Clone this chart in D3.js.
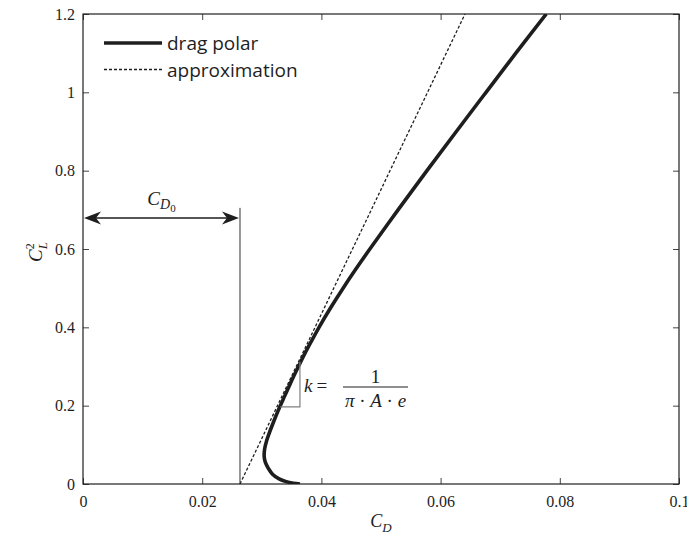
<!DOCTYPE html>
<html>
<head>
<meta charset="utf-8">
<script src="https://cdn.jsdelivr.net/npm/d3@7"></script>
<style>
  html, body { margin: 0; padding: 0; background: #fff; }
  svg { display: block; }
</style>
</head>
<body>
<svg id="chart" width="687" height="538"></svg>
<script>
// ---- data ----
const xTicks = [0, 0.02, 0.04, 0.06, 0.08, 0.1];
const xTickLabels = ["0", "0.02", "0.04", "0.06", "0.08", "0.1"];
const yTicks = [0, 0.2, 0.4, 0.6, 0.8, 1, 1.2];
const yTickLabels = ["0", "0.2", "0.4", "0.6", "0.8", "1", "1.2"];

// drag polar (C_D vs C_L^2)
const polarCD  = [0.0364, 0.0353, 0.0341, 0.0329, 0.0318, 0.0311, 0.0306, 0.0304, 0.03048, 0.0308,
                  0.03125, 0.03175, 0.0324, 0.0331, 0.03385, 0.0346, 0.03535, 0.03615, 0.03695, 0.0378,
                  0.0387, 0.0396, 0.04155, 0.04364, 0.04584, 0.04813, 0.05286, 0.05771, 0.06264, 0.06762,
                  0.07262, 0.07773];
const polarCL2 = [0.000, 0.002, 0.006, 0.013, 0.025, 0.040, 0.055, 0.070, 0.090, 0.110,
                  0.130, 0.150, 0.175, 0.200, 0.225, 0.250, 0.275, 0.300, 0.325, 0.350,
                  0.375, 0.400, 0.450, 0.500, 0.550, 0.600, 0.700, 0.800, 0.900, 1.000,
                  1.100, 1.200];

// linear approximation
const approxCD  = [0.02634, 0.0641];
const approxCL2 = [0, 1.2];

// annotations
const cd0 = 0.02634;
const cd0LineTop = 0.705;
const cd0ArrowCL2 = 0.679;
const triCD  = [0.0331, 0.0364, 0.0364];
const triCL2 = [0.197, 0.197, 0.312];

const legendLabels = ["drag polar", "approximation"];

// ---- layout ----
const svg = d3.select("#chart");
const x = d3.scaleLinear().domain([0, 0.1]).range([83, 679]);
const y = d3.scaleLinear().domain([0, 1.2]).range([484, 14]);
const ink = "#1e1e1e";
const serif = "'Liberation Serif', 'DejaVu Serif', serif";
const sans = "'Open Sans', 'Noto Sans', sans-serif";

svg.append("defs").append("clipPath").attr("id", "plotclip")
  .append("rect").attr("x", x(0)).attr("y", y(1.2))
  .attr("width", x(0.1) - x(0)).attr("height", y(0) - y(1.2));

// axes with inward ticks on all four sides
const tickLen = 6;
svg.append("g").attr("transform", `translate(0,${y(0)})`)
  .call(d3.axisBottom(x).tickValues(xTicks).tickSize(-tickLen).tickFormat((d, i) => xTickLabels[i]).tickPadding(12))
  .call(g => g.select(".domain").remove());
svg.append("g").attr("transform", `translate(0,${y(1.2)})`)
  .call(d3.axisTop(x).tickValues(xTicks).tickSize(-tickLen).tickFormat(""))
  .call(g => g.select(".domain").remove());
svg.append("g").attr("transform", `translate(${x(0)},0)`)
  .call(d3.axisLeft(y).tickValues(yTicks).tickSize(-tickLen).tickFormat((d, i) => yTickLabels[i]).tickPadding(8))
  .call(g => g.select(".domain").remove());
svg.append("g").attr("transform", `translate(${x(0.1)},0)`)
  .call(d3.axisRight(y).tickValues(yTicks).tickSize(-tickLen).tickFormat(""))
  .call(g => g.select(".domain").remove());

svg.selectAll(".tick line").attr("stroke", "#444").attr("stroke-width", 1);
svg.selectAll(".tick text").attr("font-family", serif).attr("font-size", 16).attr("fill", ink);

svg.append("rect")
  .attr("x", x(0)).attr("y", y(1.2))
  .attr("width", x(0.1) - x(0)).attr("height", y(0) - y(1.2))
  .attr("fill", "none").attr("stroke", ink).attr("stroke-width", 1.2);

// axis titles
const xl = svg.append("text").attr("x", 381).attr("y", 527)
  .attr("text-anchor", "middle").attr("font-family", serif).attr("font-style", "italic").attr("fill", ink);
xl.append("tspan").attr("font-size", 18).text("C");
xl.append("tspan").attr("font-size", 13).attr("dy", 5).text("D");

const yl = svg.append("text").attr("transform", "translate(42,252) rotate(-90)")
  .attr("text-anchor", "middle").attr("font-family", serif).attr("font-style", "italic").attr("fill", ink);
yl.append("tspan").attr("font-size", 19).text("C");
yl.append("tspan").attr("font-size", 12).attr("dy", -8).attr("font-style", "normal").text("2");
yl.append("tspan").attr("font-size", 13).attr("dx", -6).attr("dy", 13).text("L");

// CD0 vertical line
svg.append("line")
  .attr("x1", x(cd0)).attr("x2", x(cd0))
  .attr("y1", y(0)).attr("y2", y(cd0LineTop))
  .attr("stroke", "#333").attr("stroke-width", 1);

// double arrow
const ay = y(cd0ArrowCL2);
const ax0 = x(0) + 1, ax1 = x(cd0) - 1;
svg.append("line").attr("x1", ax0 + 8).attr("x2", ax1 - 8).attr("y1", ay).attr("y2", ay)
  .attr("stroke", ink).attr("stroke-width", 1.5);
function head(tipX, dir) {
  const L = 17, W = 6.5, N = 12;
  return `M${tipX},${ay} L${tipX - dir * L},${ay - W} L${tipX - dir * N},${ay} L${tipX - dir * L},${ay + W} Z`;
}
svg.append("path").attr("d", head(ax0, -1)).attr("fill", ink);
svg.append("path").attr("d", head(ax1, 1)).attr("fill", ink);

const cl = svg.append("text").attr("x", (ax0 + ax1) / 2).attr("y", 205)
  .attr("text-anchor", "middle").attr("font-family", serif).attr("font-style", "italic").attr("fill", ink);
cl.append("tspan").attr("font-size", 19).text("C");
cl.append("tspan").attr("font-size", 14).attr("dy", 4).text("D");
cl.append("tspan").attr("font-size", 11).attr("dy", 3).attr("font-style", "normal").text("0");

// curves
const g = svg.append("g").attr("clip-path", "url(#plotclip)");
const approxData = approxCD.map((d, i) => [d, approxCL2[i]]);
g.append("path").datum(approxData)
  .attr("d", d3.line().x(d => x(d[0])).y(d => y(d[1])))
  .attr("fill", "none").attr("stroke", ink).attr("stroke-width", 1.3)
  .attr("stroke-dasharray", "3,2");

const polarData = polarCD.map((d, i) => [d, polarCL2[i]]);
g.append("path").datum(polarData)
  .attr("d", d3.line().x(d => x(d[0])).y(d => y(d[1])).curve(d3.curveCatmullRom.alpha(0.5)))
  .attr("fill", "none").attr("stroke", ink).attr("stroke-width", 3.6)
  .attr("stroke-linejoin", "round");

// slope triangle
svg.append("path")
  .attr("d", d3.line()(triCD.map((d, i) => [x(d), y(triCL2[i])])))
  .attr("fill", "none").attr("stroke", "#808080").attr("stroke-width", 1.2);

// k = 1 / (pi A e)
const kt = svg.append("text").attr("x", 304).attr("y", 392)
  .attr("font-family", serif).attr("font-size", 19).attr("fill", ink);
kt.append("tspan").attr("font-style", "italic").text("k");
kt.append("tspan").attr("dx", 4).text("=");
svg.append("line").attr("x1", 343).attr("x2", 408).attr("y1", 387).attr("y2", 387)
  .attr("stroke", ink).attr("stroke-width", 1);
svg.append("text").attr("x", 375.5).attr("y", 383).attr("text-anchor", "middle")
  .attr("font-family", serif).attr("font-size", 19).attr("fill", ink).text("1");
const den = svg.append("text").attr("x", 375.5).attr("y", 407).attr("text-anchor", "middle")
  .attr("font-family", serif).attr("font-size", 19).attr("fill", ink);
den.append("tspan").attr("font-style", "italic").text("π");
den.append("tspan").text(" · ");
den.append("tspan").attr("font-style", "italic").text("A");
den.append("tspan").text(" · ");
den.append("tspan").attr("font-style", "italic").text("e");

// legend
const lg = svg.append("g");
lg.append("line").attr("x1", 104).attr("x2", 162).attr("y1", 43).attr("y2", 43)
  .attr("stroke", ink).attr("stroke-width", 3.6);
lg.append("line").attr("x1", 104).attr("x2", 162).attr("y1", 69.5).attr("y2", 69.5)
  .attr("stroke", ink).attr("stroke-width", 1.3).attr("stroke-dasharray", "3,2");
lg.selectAll("text.leg").data(legendLabels).join("text").attr("class", "leg")
  .attr("x", 167).attr("y", (d, i) => 50 + i * 26.5)
  .attr("font-family", sans).attr("font-size", 19).attr("fill", ink).text(d => d);
</script>
</body>
</html>
